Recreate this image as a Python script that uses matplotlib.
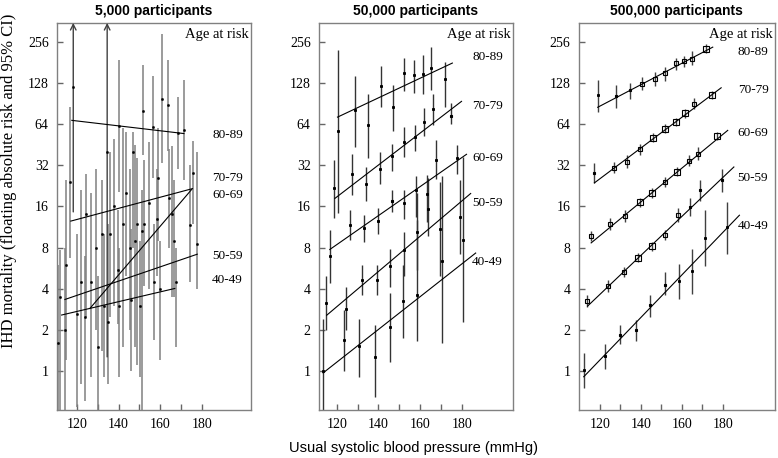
import numpy as np
import matplotlib.pyplot as plt

# Age groups, top to bottom
ages = ["80-89", "70-79", "60-69", "50-59", "40-49"]
titles = ["5,000 participants", "50,000 participants", "500,000 participants"]
y_ticks = [1, 2, 4, 8, 16, 32, 64, 128, 256]
x_ticks = [120, 130, 140, 150, 160, 170, 180]
x_labels = ["120", "", "140", "", "160", "", "180"]

# ---- 5,000 participants: point estimates and 95% CI (one list per age group)
p1_x = [[118.2, 134.5, 140.2, 146.9, 151.8, 156.3, 161.0, 163.8, 168.6, 171.4],
        [116.6, 124.5, 131.8, 138.0, 143.5, 149.0, 154.5, 159.0, 165.5, 175.8],
        [114.8, 122.0, 129.0, 136.0, 142.3, 148.0, 152.3, 158.5, 164.3, 174.3],
        [111.8, 119.8, 126.5, 133.0, 139.5, 145.5, 151.3, 157.0, 166.5, 177.5],
        [110.8, 114.2, 123.8, 130.2, 134.8, 140.0, 146.0, 150.5, 160.0, 167.5]]
p1_y = [[120, 40, 62, 40, 80, 61, 98, 88, 55, 58],
        [24, 14, 10, 16, 20, 12, 17, 26, 14, 28],
        [6.0, 4.5, 8.0, 10.0, 11.9, 9.0, 12.0, 13.0, 18.3, 11.7],
        [3.5, 2.6, 4.5, 3.0, 5.5, 8.0, 10.5, 4.5, 9.0, 8.5],
        [1.6, 2.0, 2.5, 1.5, 2.3, 3.0, 3.3, 3.0, 4.0, 4.5]]
p1_lo = [[14.6, 1.27, 20.5, 8.0, 37.8, 26, 33, 41, 30, 25],
         [6.7, 2.5, 1.4, 3.0, 5.0, 1.1, 4.0, 9.0, 3.5, 12],
         [1.2, 0.8, 2.0, 2.5, 1.5, 1.5, 4.2, 5.0, 8.0, 4.5],
         [0.3, 0.55, 0.9, 0.9, 2.2, 2.0, 0.3, 1.7, 3.5, 4.0],
         [0.3, 0.3, 0.6, 0.3, 0.8, 0.9, 1.0, 0.9, 1.2, 1.5]]
p1_hi = [[999, 999, 188, 56, 172, 145, 290, 188, 101, 135],
         [85, 27.8, 25, 50, 56, 36, 47, 60, 44, 48],
         [25, 21, 30, 40, 60, 45, 35, 30, 42, 32],
         [7.7, 10, 20, 10, 15, 30, 21, 12, 25, 40],
         [6, 8, 7, 5, 12, 8, 11, 9, 9, 8]]
# fitted lines: (x start, x end, y start, y end)
p1_line = [(117.5, 171.4, 68.2, 54.6),
           (117.0, 175.5, 12.5, 21.6),
           (126.2, 175.1, 2.87, 21.3),
           (114.2, 177.8, 3.34, 7.16),
           (112.6, 167.0, 2.57, 4.02)]

# ---- 50,000 participants
p2_x = [[120.5, 128.6, 135.0, 141.1, 147.0, 152.2, 157.1, 161.4, 165.1, 172.0],
        [118.4, 127.5, 133.9, 140.6, 146.5, 152.2, 157.4, 161.9, 166.2, 174.9],
        [116.6, 126.1, 133.1, 139.8, 146.3, 152.3, 157.8, 163.1, 167.5, 177.9],
        [114.7, 124.6, 131.9, 139.1, 145.4, 152.3, 158.3, 163.8, 169.5, 179.4],
        [113.4, 123.4, 130.7, 138.2, 145.4, 151.8, 158.5, 170.7, 180.6]]
p2_y = [[57, 80.6, 62.7, 121, 85.3, 151, 146, 148, 165, 136],
        [22, 27.8, 23.5, 30.3, 37.2, 47.4, 51.5, 66.3, 83, 73.4],
        [6.9, 11.7, 11.2, 12.6, 17.5, 17.0, 21.0, 19.6, 35.2, 35.9],
        [3.16, 2.83, 4.63, 4.63, 5.85, 7.66, 10.4, 15.4, 11.0, 13.3],
        [1.0, 1.68, 1.52, 1.27, 2.1, 3.25, 3.6, 6.4, 9.1]]
p2_lo = [[14.3, 43.5, 36.4, 86, 57, 112, 108, 107, 114, 85],
         [13.1, 19.3, 17.5, 23.5, 29, 36.8, 41, 52, 62.7, 64.5],
         [4.4, 9.1, 8.8, 10.1, 14.6, 13.0, 13.4, 12.3, 25.2, 27.5],
         [2.0, 2.0, 3.6, 3.6, 4.13, 5.0, 5.5, 9.8, 5.0, 7.2],
         [0.45, 1.0, 0.91, 0.65, 1.17, 1.75, 1.67, 1.6, 2.3]]
p2_hi = [[223, 143, 107, 169, 123, 195, 190, 204, 234, 182],
         [35.2, 38.9, 31.1, 40.1, 45.6, 61, 63.5, 84.5, 107, 91],
         [10.7, 15.0, 13.8, 15.5, 21.2, 21.0, 26.5, 27, 49.3, 45],
         [5.0, 4.1, 5.95, 5.95, 7.75, 10.4, 20, 26, 24, 24.8],
         [2.4, 2.8, 2.42, 2.17, 3.7, 6.0, 12.7, 26.5, 36.6]]
p2_line = [(120.3, 175.5, 72, 179),
           (119.0, 179.9, 18.3, 93.9),
           (116.6, 182.3, 7.75, 38.5),
           (115.1, 184.3, 2.56, 19.9),
           (113.4, 186.7, 0.97, 7.3)]

# ---- 500,000 participants
p3_x = [[119.0, 128.0, 134.8, 140.8, 146.7, 152.0, 157.1, 161.1, 165.0, 171.9],
        [117.4, 126.8, 133.3, 139.8, 145.9, 151.7, 157.2, 161.8, 166.2, 174.8],
        [115.5, 125.2, 132.4, 139.4, 145.5, 151.7, 157.6, 163.3, 168.0, 177.2],
        [113.8, 123.9, 131.6, 138.5, 145.4, 151.6, 158.0, 163.8, 169.1, 179.7],
        [112.5, 122.6, 130.1, 137.6, 144.7, 151.7, 158.5, 164.9, 171.4, 182.1]]
p3_y = [[105, 102, 113, 126, 137, 151, 179, 184, 193, 226],
        [28.1, 30.8, 34.1, 41.9, 51.0, 59.3, 66.3, 76.7, 90.5, 105],
        [9.7, 11.9, 13.6, 17.2, 20.1, 24.1, 28.8, 34.6, 38.9, 52.4],
        [3.26, 4.20, 5.32, 6.73, 8.18, 9.85, 13.9, 15.9, 21.0, 24.9],
        [1.02, 1.29, 1.83, 1.99, 3.03, 4.25, 4.54, 5.40, 9.4, 11.3]]
p3_lo = [[79, 84, 97, 113, 121, 133, 160, 167, 172, 212],
         [23.9, 27.9, 30.7, 38.3, 47.6, 55.2, 61.7, 71.1, 82.7, 98.5],
         [8.9, 10.8, 12.3, 15.9, 18.6, 22.2, 26.7, 31.6, 35.0, 48.9],
         [2.94, 3.81, 4.89, 6.24, 7.58, 9.06, 12.4, 13.6, 17.5, 20.5],
         [0.75, 1.03, 1.57, 1.66, 2.49, 3.59, 3.36, 3.65, 5.86, 7.24]]
p3_hi = [[135, 123, 128, 141, 154, 167, 196, 200, 218, 245],
         [33.1, 33.9, 37.9, 45.8, 54.7, 63.7, 71.3, 82.8, 99.0, 112],
         [10.5, 13.1, 15.0, 18.6, 21.7, 26.2, 31.1, 37.9, 43.2, 56.2],
         [3.62, 4.63, 5.78, 7.26, 8.83, 10.7, 15.5, 18.5, 25.1, 30.2],
         [1.36, 1.57, 2.17, 2.36, 3.59, 5.32, 6.02, 7.88, 15.0, 17.3]]
p3_line = [(119.0, 175.1, 85, 234),
           (117.4, 179.2, 23.8, 118),
           (115.8, 182.4, 8.66, 57.6),
           (114.1, 185.4, 2.99, 31.1),
           (112.2, 188.1, 0.909, 13.8)]

panels = [(p1_x, p1_y, p1_lo, p1_hi, p1_line),
          (p2_x, p2_y, p2_lo, p2_hi, p2_line),
          (p3_x, p3_y, p3_lo, p3_hi, p3_line)]

# layout
positions = [[0.0733, 0.105, 0.249, 0.845],
             [0.410, 0.105, 0.249, 0.845],
             [0.744, 0.105, 0.252, 0.845]]
xlims = [(110.4, 203.5), (111.4, 204.5), (109.8, 205.4)]
ylim = (0.52, 352)
label_xf = [0.80, 0.79, 0.81]
label_yf = [[0.711, 0.599, 0.556, 0.398, 0.336],
            [0.912, 0.786, 0.651, 0.535, 0.383],
            [0.925, 0.827, 0.716, 0.599, 0.474]]
bar_color = ["0.5", "0.2", "0.25"]
bar_width = [1.1, 1.0, 1.0]

serif = "Liberation Serif"
sans = "Liberation Sans"

fig = plt.figure(figsize=(7.78, 4.58), dpi=100)

for i, (xs, ys, los, his, lines) in enumerate(panels):
    ax = fig.add_axes(positions[i])
    ax.set_yscale("log", base=2)
    ax.set_xlim(*xlims[i])
    ax.set_ylim(*ylim)

    for g in range(len(ages)):
        x = np.array(xs[g])
        y = np.array(ys[g])
        lo = np.array(los[g])
        hi = np.array(his[g])

        # error bars; those running past the top get an arrow
        over = hi > ylim[1]
        ax.vlines(x[~over], lo[~over], hi[~over], color=bar_color[i],
                  lw=bar_width[i], zorder=2)
        for xv, lv in zip(x[over], lo[over]):
            ax.annotate("", xy=(xv, ylim[1]), xytext=(xv, lv),
                        arrowprops=dict(arrowstyle="->", lw=1.0, color="0.25",
                                        shrinkA=0, shrinkB=0),
                        annotation_clip=False)

        # marker size scaled with precision of the estimate
        half = np.log2(hi / lo) / 2
        if i == 0:
            ms = np.full(len(x), 1.0)
        else:
            ms = np.clip(0.42 / half, 1.3, 3.8)
        for xv, yv, m in zip(x, y, ms):
            ax.plot(xv, yv, marker="s", ms=m, mfc="none" if m > 2 else "black",
                    mec="black", mew=0.8, zorder=4)

        x0, x1, y0, y1 = lines[g]
        ax.plot([x0, x1], [y0, y1], color="black", lw=0.8, zorder=3)

        ax.text(label_xf[i], label_yf[i][g], ages[g], transform=ax.transAxes,
                fontsize=9.5, family=serif, va="center", ha="left")

    ax.text(0.99, 0.969, "Age at risk", transform=ax.transAxes, fontsize=10.5,
            family=serif, ha="right", va="center")

    ax.set_yticks(y_ticks)
    ax.set_yticklabels([str(t) for t in y_ticks], family=serif, fontsize=10)
    ax.yaxis.set_minor_locator(plt.NullLocator())
    ax.set_xticks(x_ticks)
    ax.set_xticklabels(x_labels, family=serif, fontsize=10)
    ax.tick_params(direction="in", length=4, color="0.4", width=1.0, pad=6)
    for s in ax.spines.values():
        s.set_color("0.5")
        s.set_linewidth(1.0)

    ax.set_title(titles[i], family=sans, fontweight="bold", fontsize=10, pad=5.5)

fig.text(0.0116, 0.605, "IHD mortality (floating absolute risk and 95% CI)",
         rotation=90, family=serif, fontsize=12, ha="center", va="center")
fig.text(0.531, 0.022, "Usual systolic blood pressure (mmHg)", family=sans,
         fontsize=10.5, ha="center", va="center")

fig.savefig("out.png", dpi=100)
